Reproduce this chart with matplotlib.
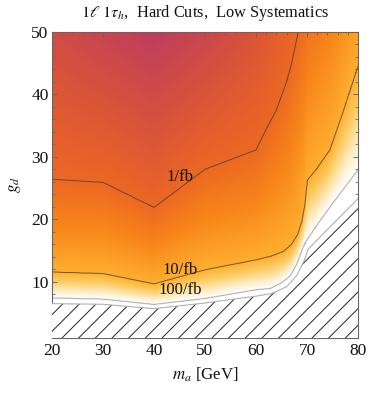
import numpy as np
import matplotlib
matplotlib.use('Agg')
import matplotlib.pyplot as plt
from matplotlib.colors import LinearSegmentedColormap
from matplotlib.ticker import MultipleLocator

# ---- data -----------------------------------------------------------------
# g_d at which the required luminosity equals the level (contour crossings)
m_1fb = [20, 30, 40, 50, 60, 62, 64, 66, 67, 68.3, 70, 80]
g_1fb = [26.4, 25.9, 21.9, 28.0, 31.1, 34.4, 37.5, 42.0, 45.0, 50.0, 56.0, 80.0]
m_10fb = [20, 30, 40, 50, 60, 63, 65.4, 67, 68.2, 69.0, 69.6, 70.1, 72, 74.5, 77, 80]
g_10fb = [11.55, 11.3, 9.65, 11.9, 13.5, 14.1, 14.85, 16.0, 17.6, 19.6, 22.3, 26.3, 28.2, 31.1, 37.0, 44.5]
m_100fb = [20, 30, 40, 50, 60, 62.8, 65, 66.7, 68, 69.3, 70, 72.5, 75, 77.5, 80]
g_100fb = [7.4, 7.2, 6.35, 7.3, 8.7, 8.9, 9.8, 10.9, 12.8, 15.65, 16.7, 19.7, 22.5, 25.2, 27.9]
# boundary of the hatched (unreachable) region
m_edge = [20, 30, 40, 50, 60, 63, 66, 68, 69.5, 70.2, 75, 80]
g_edge = [6.5, 6.4, 5.7, 6.6, 7.7, 8.1, 9.2, 11.0, 13.5, 15.2, 19.2, 23.3]
# log10(required luminosity / fb^-1) along the top edge g_d = 50
m_top = [20, 30, 40, 50, 60, 68.3]
logL_top = [-0.5, -0.68, -0.85, -0.65, -0.35, 0.0]

levels = [0, 1, 2]
level_labels = ["1/fb", "10/fb", "100/fb"]
x_ticks = [20, 30, 40, 50, 60, 70, 80]
y_ticks = [10, 20, 30, 40, 50]

# ---- field of log10(L) built from the crossings --------------------------
M = np.linspace(20, 80, 601)
G = np.linspace(1, 50, 491)
Z = np.empty((G.size, M.size))
for j, m in enumerate(M):
    ge = np.interp(m, m_edge, g_edge)
    g2 = np.interp(m, m_100fb, g_100fb)
    g1 = np.interp(m, m_10fb, g_10fb)
    g0 = np.interp(m, m_1fb, g_1fb)
    xp = [ge, g2, g1, g0]
    fp = [3.0, 2.0, 1.0, 0.0]
    if g0 < 50 - 1e-9:
        xp.append(50.0)
        fp.append(np.interp(m, m_top, logL_top))
    Z[:, j] = np.interp(G, xp, fp)

cmap = LinearSegmentedColormap.from_list("sunset", [
    (0.0, "#B8365C"),
    (0.0667, "#C0405A"),
    (0.2, "#D8513C"),
    (0.333, "#EC6824"),
    (0.5, "#F8861A"),
    (0.667, "#FFAE2E"),
    (0.8, "#FFCF6A"),
    (0.9167, "#FFEDC4"),
    (1.0, "#FFFFFF"),
])

plt.rcParams['font.family'] = ['Liberation Serif', 'DejaVu Serif']
plt.rcParams['mathtext.fontset'] = 'stix'
plt.rcParams['hatch.linewidth'] = 0.7
plt.rcParams['hatch.color'] = '#222222'

fig = plt.figure(figsize=(3.74, 3.96), dpi=100)
ax = fig.add_axes([52 / 374, 1 - 338 / 396, 306 / 374, 306 / 396])

ax.imshow(Z, extent=[20, 80, 1, 50], origin='lower', aspect='auto',
          cmap=cmap, vmin=-1, vmax=2, interpolation='bilinear')
ax.contour(M, G, Z, levels=[0, 1], colors='#4a3a30', linewidths=0.7, alpha=0.75)
ax.contour(M, G, Z, levels=[2], colors='#b0b0b0', linewidths=0.8)
ax.fill_between(m_edge, 1, g_edge, facecolor='white', edgecolor='#222222',
                hatch='//', linewidth=0, zorder=3)
ax.plot(m_edge, g_edge, color='#b0b0b0', lw=0.8, zorder=4)

label_pos = [(45.1, 26.1), (45.1, 11.3), (45.05, 8.08)]
for (lx, ly), txt in zip(label_pos, level_labels):
    ax.text(lx, ly, txt, ha='center', va='baseline', fontsize=12, color='#111111', zorder=5)

ax.set_xlim(20, 80)
ax.set_ylim(1, 50)
ax.set_xticks(x_ticks)
ax.set_yticks(y_ticks)
ax.xaxis.set_minor_locator(MultipleLocator(2))
ax.yaxis.set_minor_locator(MultipleLocator(2))
ax.tick_params(which='both', direction='in', top=True, right=True, color='#666666',
               labelsize=12.5, labelcolor='#111111')
ax.tick_params(which='major', length=3.5, width=0.7)
ax.tick_params(which='minor', length=2, width=0.6)
ax.tick_params(axis='x', which='major', pad=3.5)
ax.tick_params(axis='y', which='major', pad=2.5)
for s in ax.spines.values():
    s.set_color('#666666')
    s.set_linewidth(0.8)

ax.set_xlabel(r"$m_a$ [GeV]", fontsize=12.2, color='#111111', labelpad=5)
ax.set_ylabel(r"$g_d$", fontsize=12.2, color='#111111', labelpad=6)
ax.set_title(r"$1\ell\ 1\tau_h$,  Hard Cuts,  Low Systematics", fontsize=11.8,
             color='#111111', pad=11)

fig.savefig("out.png", dpi=100)
